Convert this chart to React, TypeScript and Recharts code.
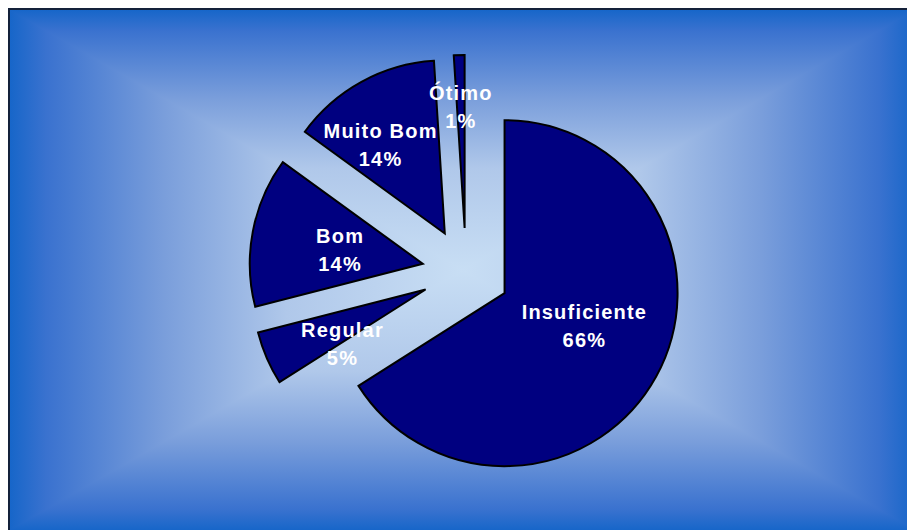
import React from 'react'
import { PieChart, Pie, Sector } from 'recharts'

// slices, clockwise from 12 o'clock
const categories = ['Insuficiente', 'Regular', 'Bom', 'Muito Bom', 'Ótimo']
const percents = [66, 5, 14, 14, 1]

const data = categories.map((name, i) => ({ name, value: percents[i] }))

const W = 905
const H = 520
const RADIAN = Math.PI / 180
const EXPLODE = 44
// label distance from the slice tip + small angle tweak (deg), per slice
const LABEL_POS: Record<string, [number, number]> = {
  Insuficiente: [86, 7],
  Regular: [99, 9.5],
  Bom: [84, 0.6],
  'Muito Bom': [110, 6.9],
  'Ótimo': [122, 0],
}

const polar = (angle: number, dist: number) => ({
  dx: dist * Math.cos(-angle * RADIAN),
  dy: dist * Math.sin(-angle * RADIAN),
})

const ExplodedSector = (props: any) => {
  const { dx, dy } = polar(props.midAngle, EXPLODE)
  return <Sector {...props} cx={props.cx + dx} cy={props.cy + dy} />
}

const renderLabel = (props: any) => {
  const { cx, cy, midAngle, percent, name } = props
  const tip = polar(midAngle, EXPLODE)
  const [dist, shift] = LABEL_POS[name] || [90, 0]
  const l = polar(midAngle + shift, dist)
  const x = cx + tip.dx + l.dx
  const y = cy + tip.dy + l.dy
  return (
    <text
      x={x}
      y={y}
      textAnchor="middle"
      fill="#ffffff"
      fontWeight="bold"
      fontSize={20}
      letterSpacing={1.2}
      fontFamily="'Liberation Sans', Arial, sans-serif"
    >
      <tspan x={x} y={y - 6}>{name}</tspan>
      <tspan x={x} y={y + 22}>{Math.round(percent * 100)}%</tspan>
    </text>
  )
}

const stops = (
  <>
    <stop offset="0" stopColor="#1766c9" />
    <stop offset="0.08" stopColor="#3a72cf" />
    <stop offset="0.34" stopColor="#7a9edb" />
    <stop offset="0.61" stopColor="#b0c8ea" />
    <stop offset="1" stopColor="#c8def4" />
  </>
)

// Excel-style "from center" rectangular gradient
const Background = () => {
  const mx = W / 2
  const my = H / 2
  return (
    <svg width={W} height={H} style={{ position: 'absolute', left: 0, top: 0 }}>
      <defs>
        <linearGradient id="gTop" x1="0" y1="0" x2="0" y2="1">{stops}</linearGradient>
        <linearGradient id="gBottom" x1="0" y1="1" x2="0" y2="0">{stops}</linearGradient>
        <linearGradient id="gLeft" x1="0" y1="0" x2="1" y2="0">{stops}</linearGradient>
        <linearGradient id="gRight" x1="1" y1="0" x2="0" y2="0">{stops}</linearGradient>
      </defs>
      <rect x={0} y={0} width={mx + 1} height={H} fill="url(#gLeft)" />
      <rect x={mx} y={0} width={W - mx} height={H} fill="url(#gRight)" />
      <polygon points={`0,0 ${W},0 ${mx},${my}`} fill="url(#gTop)" />
      <polygon points={`0,${H} ${W},${H} ${mx},${my}`} fill="url(#gBottom)" />
    </svg>
  )
}

export default function App() {
  return (
    <div
      style={{
        position: 'relative',
        width: W,
        height: H,
        borderLeft: '2px solid #14213a',
        borderTop: '2px solid #14213a',
        overflow: 'hidden',
      }}
    >
      <Background />
      <div style={{ position: 'absolute', left: 0, top: 0 }}>
        <PieChart width={W} height={H} margin={{ top: 0, right: 0, bottom: 0, left: 0 }}>
          <Pie
            data={data}
            dataKey="value"
            nameKey="name"
            cx={456}
            cy={262}
            outerRadius={173}
            startAngle={90}
            endAngle={-270}
            fill="#000080"
            stroke="#000000"
            strokeWidth={2}
            shape={ExplodedSector}
            activeShape={ExplodedSector}
            inactiveShape={ExplodedSector}
            label={renderLabel}
            labelLine={false}
            isAnimationActive={false}
          />
        </PieChart>
      </div>
    </div>
  )
}
